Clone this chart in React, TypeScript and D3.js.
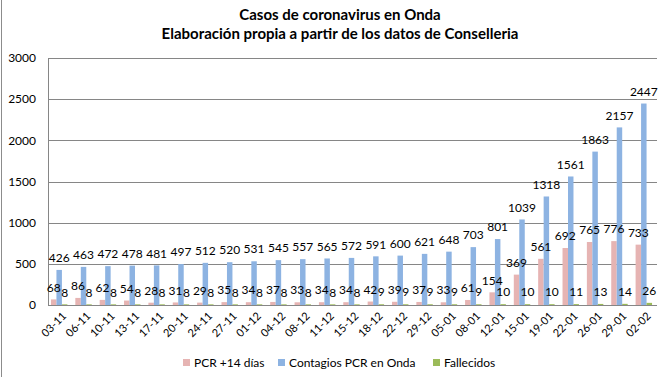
import React from "react";
import * as d3 from "d3";

const categories = ["03-11","06-11","10-11","13-11","17-11","20-11","24-11","27-11","01-12","04-12","08-12","11-12","15-12","18-12","22-12","29-12","05-01","08-01","12-01","15-01","19-01","22-01","26-01","29-01","02-02"];
const pcr14 = [68,86,62,54,28,31,29,35,34,37,33,34,34,42,39,37,33,61,154,369,561,692,765,776,733];
const contagios = [426,463,472,478,481,497,512,520,531,545,557,565,572,591,600,621,648,703,801,1039,1318,1561,1863,2157,2447];
const fallecidos = [8,8,8,8,8,8,8,8,8,8,8,8,8,9,9,9,9,9,10,10,10,11,13,14,26];
const yTicks = [0,500,1000,1500,2000,2500,3000];
const seriesNames = ["PCR +14 días","Contagios PCR en Onda","Fallecidos"];
const colors = ["#E6B4B3","#8DB3E2","#9BBB59"];

const W = 670, H = 377;
const L = 48, R = 657, T = 58, B = 305;
const FONT = "Lato, 'Liberation Sans', sans-serif";

export default function App() {
  const x = d3.scaleBand<string>().domain(categories).range([L, R]);
  const y = d3.scaleLinear().domain([0, 3000]).range([B, T]);
  const series = [pcr14, contagios, fallecidos];
  const bw = x.bandwidth() * 0.225;
  const groupW = bw * 3;
  return (
    <svg width={W} height={H} style={{ position: "absolute", left: 0, top: 0, background: "#fff" }}>
      <rect x={0} y={0} width={W} height={H} fill="#fff" />
      <line x1={1.5} x2={1.5} y1={0} y2={H} stroke="#8c8c8c" />
      <text x={340} y={20} textAnchor="middle" fontFamily={FONT} fontWeight="bold" fontSize={15} fill="#000">Casos de coronavirus en Onda</text>
      <text x={340} y={39} textAnchor="middle" fontFamily={FONT} fontWeight="bold" fontSize={15} fill="#000">Elaboración propia a partir de los datos de Conselleria</text>
      {yTicks.map((t) => (
        <g key={t}>
          {t > 0 && <line x1={L} x2={R} y1={Math.round(y(t)) + 0.5} y2={Math.round(y(t)) + 0.5} stroke="#868686" />}
          <text x={36} y={y(t)} dy="0.35em" textAnchor="end" fontFamily={FONT} fontSize={12} fill="#000">{t}</text>
        </g>
      ))}
      <line x1={L + 0.5} x2={L + 0.5} y1={T} y2={B} stroke="#868686" />
      {series.map((vals, si) =>
        vals.map((v, i) => {
          const cx = (x(categories[i]) as number) + x.bandwidth() / 2 - groupW / 2 + si * bw - 1;
          return (
            <rect key={`b${si}-${i}`} x={cx} y={y(v)} width={bw} height={B - y(v)} fill={colors[si]} />
          );
        })
      )}
      <line x1={L} x2={R} y1={B + 0.5} y2={B + 0.5} stroke="#868686" />
      {series.map((vals, si) =>
        vals.map((v, i) => {
          const cx = (x(categories[i]) as number) + x.bandwidth() / 2 - groupW / 2 + si * bw - 1 + bw / 2;
          return (
            <text key={`l${si}-${i}`} x={cx} y={y(v) - 12} dy="0.35em" textAnchor="middle" fontFamily={FONT} fontSize={12} fill="#000">{v}</text>
          );
        })
      )}
      {categories.map((c) => {
        const cx = (x(c) as number) + x.bandwidth() / 2;
        return (
          <text key={c} transform={`translate(${cx + 4},${B + 9}) rotate(-45)`} dy="0.35em" textAnchor="end" fontFamily={FONT} fontSize={11} fill="#000">{c}</text>
        );
      })}
      {seriesNames.map((n, i) => {
        const lx = [183, 278, 433][i];
        return (
          <g key={n}>
            <rect x={lx} y={359} width={7} height={7} fill={colors[i]} />
            <text x={lx + 11} y={362.5} dy="0.35em" fontFamily={FONT} fontSize={12} fill="#000">{n}</text>
          </g>
        );
      })}
    </svg>
  );
}
